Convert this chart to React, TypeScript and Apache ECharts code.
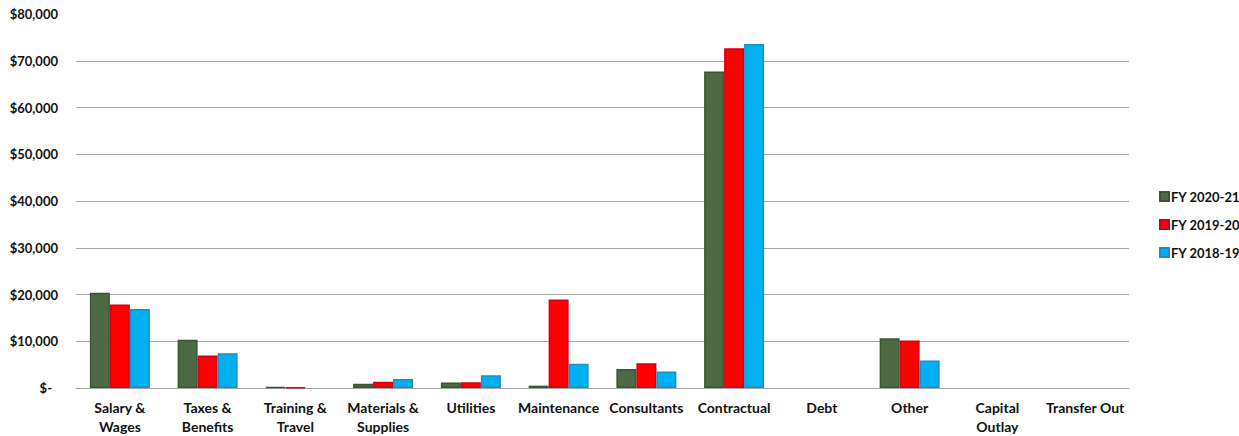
import React, { useEffect, useRef } from "react";
import * as echarts from "echarts";

const categories = [
  "Salary &\nWages",
  "Taxes &\nBenefits",
  "Training &\nTravel",
  "Materials &\nSupplies",
  "Utilities",
  "Maintenance",
  "Consultants",
  "Contractual",
  "Debt",
  "Other",
  "Capital\nOutlay",
  "Transfer Out",
];

const seriesNames = ["FY 2020-21", "FY 2019-20", "FY 2018-19"];

const fy2021 = [20400, 10300, 200, 930, 1200, 500, 4050, 67700, 0, 10650, 0, 0];
const fy2020 = [17850, 6950, 100, 1350, 1250, 18950, 5300, 72700, 0, 10150, 0, 0];
const fy2019 = [16900, 7450, 0, 1900, 2750, 5200, 3550, 73600, 0, 5900, 0, 0];

const colors = ["#4d6a45", "#ff0000", "#00b0f0"];
const borders = ["#3b5633", "#d0001c", "#1b8fc4"];

export default function App() {
  const ref = useRef<HTMLDivElement>(null);
  useEffect(() => {
    if (!ref.current) return;
    const chart = echarts.init(ref.current, undefined, { renderer: "svg" });
    const font = "Lato, 'Open Sans', sans-serif";
    const data = [fy2021, fy2020, fy2019];
    const grid = "#a6a6a6";
    chart.setOption({
      animation: false,
      backgroundColor: "#ffffff",
      textStyle: { fontFamily: font },
      grid: { left: 76, right: 110, top: 14, bottom: 44, containLabel: false },
      legend: {
        orient: "vertical",
        left: 1154,
        top: 185,
        itemWidth: 9,
        itemHeight: 9,
        itemGap: 15,
        icon: "rect",
        data: seriesNames,
        textStyle: { fontFamily: font, fontWeight: "bold", fontSize: 13, color: "#111", padding: [0, 0, 0, -3] },
      },
      xAxis: {
        type: "category",
        data: categories,
        axisTick: { show: false },
        axisLine: { lineStyle: { color: grid, width: 1 } },
        axisLabel: {
          interval: 0,
          fontFamily: font,
          fontWeight: "bold",
          fontSize: 14,
          color: "#111",
          lineHeight: 19,
          margin: 10,
        },
      },
      yAxis: {
        type: "value",
        min: 0,
        max: 80000,
        interval: 10000,
        axisLine: { show: false },
        axisTick: { show: false },
        splitLine: { showMaxLine: false, lineStyle: { color: grid, width: 1 } },
        axisLabel: {
          fontFamily: font,
          fontWeight: "bold",
          fontSize: 13,
          color: "#111",
          margin: 18,
          formatter: (v: number) =>
            v === 0 ? "{z|$-}" : "$" + v.toLocaleString("en-US"),
          rich: {
            z: { fontFamily: font, fontWeight: "bold", fontSize: 13, color: "#111", padding: [0, 6, 0, 0] },
          },
        },
      },
      graphic: [
        {
          type: "rect",
          z: 100,
          silent: true,
          shape: { x: 74, y: 12, width: 1058, height: 4 },
          style: { fill: "#ffffff" },
        },
      ],
      series: seriesNames.map((name, i) => ({
        name,
        type: "bar",
        data: data[i].map((v) => (v === 0 ? null : v)),
        barWidth: 20,
        barGap: "0%",
        itemStyle: { color: colors[i], borderColor: borders[i], borderWidth: 1.5 },
      })),
    });
    return () => chart.dispose();
  }, []);
  return (
    <div
      ref={ref}
      style={{ position: "absolute", left: 0, top: 0, width: 1239, height: 436 }}
    />
  );
}
